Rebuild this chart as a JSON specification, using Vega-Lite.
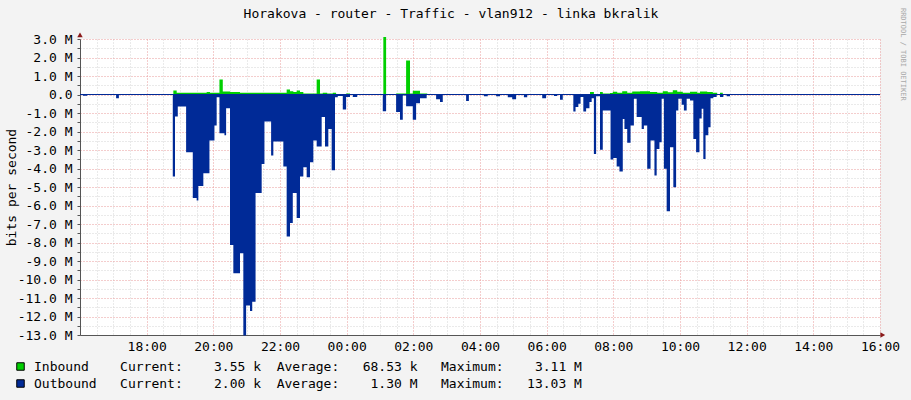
{
"$schema":"https://vega.github.io/schema/vega-lite/v6.json",
"width":800,"height":296,
"autosize":{"type":"none"},
"padding":{"left":80,"top":39,"right":31,"bottom":65},
"background":"#f3f3f3",
"title":{"text":"Horakova - router - Traffic - vlan912 - linka bkralik","font":"DejaVu Sans Mono","fontSize":13,"fontWeight":"normal","color":"#000000","offset":-13,"dx":-29},
"config":{"view":{"stroke":null,"fill":"#ffffff"},
"axis":{"labelFont":"DejaVu Sans Mono","labelFontSize":13,"labelColor":"#000000","titleFont":"DejaVu Sans Mono","titleFontSize":13,"titleFontWeight":"normal","titleColor":"#000000"}},
"data":{"values":[
{"t":"2024-01-01T16:00:00Z","s":"Outbound","v":0},
{"t":"2024-01-01T16:05:00Z","s":"Outbound","v":-0.07},
{"t":"2024-01-01T16:13:00Z","s":"Outbound","v":0},
{"t":"2024-01-01T17:05:00Z","s":"Outbound","v":-0.2},
{"t":"2024-01-01T17:10:00Z","s":"Outbound","v":0},
{"t":"2024-01-01T18:47:00Z","s":"Outbound","v":-4.43},
{"t":"2024-01-01T18:51:00Z","s":"Outbound","v":-1.19},
{"t":"2024-01-01T18:56:00Z","s":"Outbound","v":-0.65},
{"t":"2024-01-01T19:11:00Z","s":"Outbound","v":-3.12},
{"t":"2024-01-01T19:23:00Z","s":"Outbound","v":-5.59},
{"t":"2024-01-01T19:30:00Z","s":"Outbound","v":-5.73},
{"t":"2024-01-01T19:33:00Z","s":"Outbound","v":-4.95},
{"t":"2024-01-01T19:42:00Z","s":"Outbound","v":-4.25},
{"t":"2024-01-01T19:53:00Z","s":"Outbound","v":-2.49},
{"t":"2024-01-01T20:02:00Z","s":"Outbound","v":-1.68},
{"t":"2024-01-01T20:06:00Z","s":"Outbound","v":-0.15},
{"t":"2024-01-01T20:11:00Z","s":"Outbound","v":-2.09},
{"t":"2024-01-01T20:20:00Z","s":"Outbound","v":-2.2},
{"t":"2024-01-01T20:23:00Z","s":"Outbound","v":-0.74},
{"t":"2024-01-01T20:30:00Z","s":"Outbound","v":-8.13},
{"t":"2024-01-01T20:36:00Z","s":"Outbound","v":-9.66},
{"t":"2024-01-01T20:48:00Z","s":"Outbound","v":-8.58},
{"t":"2024-01-01T20:54:00Z","s":"Outbound","v":-13.03},
{"t":"2024-01-01T20:59:00Z","s":"Outbound","v":-11.4},
{"t":"2024-01-01T21:06:00Z","s":"Outbound","v":-11.7},
{"t":"2024-01-01T21:10:00Z","s":"Outbound","v":-11.2},
{"t":"2024-01-01T21:16:00Z","s":"Outbound","v":-5.33},
{"t":"2024-01-01T21:27:00Z","s":"Outbound","v":-3.75},
{"t":"2024-01-01T21:32:00Z","s":"Outbound","v":-1.46},
{"t":"2024-01-01T21:44:00Z","s":"Outbound","v":-3.3},
{"t":"2024-01-01T21:48:00Z","s":"Outbound","v":-2.54},
{"t":"2024-01-01T22:06:00Z","s":"Outbound","v":-3.89},
{"t":"2024-01-01T22:12:00Z","s":"Outbound","v":-7.68},
{"t":"2024-01-01T22:18:00Z","s":"Outbound","v":-6.95},
{"t":"2024-01-01T22:23:00Z","s":"Outbound","v":-5.33},
{"t":"2024-01-01T22:30:00Z","s":"Outbound","v":-6.67},
{"t":"2024-01-01T22:36:00Z","s":"Outbound","v":-4.43},
{"t":"2024-01-01T22:42:00Z","s":"Outbound","v":-3.93},
{"t":"2024-01-01T22:48:00Z","s":"Outbound","v":-4.47},
{"t":"2024-01-01T22:54:00Z","s":"Outbound","v":-3.66},
{"t":"2024-01-01T23:00:00Z","s":"Outbound","v":-2.49},
{"t":"2024-01-01T23:06:00Z","s":"Outbound","v":-2.81},
{"t":"2024-01-01T23:15:00Z","s":"Outbound","v":-1.22},
{"t":"2024-01-01T23:21:00Z","s":"Outbound","v":-2.81},
{"t":"2024-01-01T23:27:00Z","s":"Outbound","v":-1.86},
{"t":"2024-01-01T23:33:00Z","s":"Outbound","v":-4.1},
{"t":"2024-01-01T23:39:00Z","s":"Outbound","v":-0.15},
{"t":"2024-01-01T23:44:00Z","s":"Outbound","v":-0.08},
{"t":"2024-01-01T23:53:00Z","s":"Outbound","v":-0.81},
{"t":"2024-01-01T23:59:00Z","s":"Outbound","v":-0.14},
{"t":"2024-01-02T00:06:00Z","s":"Outbound","v":-0.02},
{"t":"2024-01-02T00:11:00Z","s":"Outbound","v":-0.14},
{"t":"2024-01-02T00:19:00Z","s":"Outbound","v":0},
{"t":"2024-01-02T01:05:00Z","s":"Outbound","v":-0.9},
{"t":"2024-01-02T01:11:00Z","s":"Outbound","v":0},
{"t":"2024-01-02T01:29:00Z","s":"Outbound","v":-0.95},
{"t":"2024-01-02T01:36:00Z","s":"Outbound","v":-1.37},
{"t":"2024-01-02T01:41:00Z","s":"Outbound","v":-0.05},
{"t":"2024-01-02T01:47:00Z","s":"Outbound","v":-0.63},
{"t":"2024-01-02T01:59:00Z","s":"Outbound","v":-1.37},
{"t":"2024-01-02T02:05:00Z","s":"Outbound","v":-0.47},
{"t":"2024-01-02T02:12:00Z","s":"Outbound","v":-0.2},
{"t":"2024-01-02T02:24:00Z","s":"Outbound","v":0},
{"t":"2024-01-02T02:41:00Z","s":"Outbound","v":-0.25},
{"t":"2024-01-02T02:48:00Z","s":"Outbound","v":-0.4},
{"t":"2024-01-02T02:53:00Z","s":"Outbound","v":0},
{"t":"2024-01-02T03:35:00Z","s":"Outbound","v":-0.35},
{"t":"2024-01-02T03:40:00Z","s":"Outbound","v":0},
{"t":"2024-01-02T04:07:00Z","s":"Outbound","v":-0.1},
{"t":"2024-01-02T04:14:00Z","s":"Outbound","v":0},
{"t":"2024-01-02T04:29:00Z","s":"Outbound","v":-0.1},
{"t":"2024-01-02T04:36:00Z","s":"Outbound","v":0},
{"t":"2024-01-02T04:50:00Z","s":"Outbound","v":-0.15},
{"t":"2024-01-02T04:58:00Z","s":"Outbound","v":-0.25},
{"t":"2024-01-02T05:05:00Z","s":"Outbound","v":0},
{"t":"2024-01-02T05:19:00Z","s":"Outbound","v":-0.15},
{"t":"2024-01-02T05:25:00Z","s":"Outbound","v":0},
{"t":"2024-01-02T05:52:00Z","s":"Outbound","v":-0.2},
{"t":"2024-01-02T05:59:00Z","s":"Outbound","v":0},
{"t":"2024-01-02T06:13:00Z","s":"Outbound","v":-0.08},
{"t":"2024-01-02T06:19:00Z","s":"Outbound","v":0},
{"t":"2024-01-02T06:24:00Z","s":"Outbound","v":-0.29},
{"t":"2024-01-02T06:29:00Z","s":"Outbound","v":0},
{"t":"2024-01-02T06:48:00Z","s":"Outbound","v":-0.92},
{"t":"2024-01-02T06:52:00Z","s":"Outbound","v":-0.68},
{"t":"2024-01-02T06:57:00Z","s":"Outbound","v":-0.5},
{"t":"2024-01-02T07:01:00Z","s":"Outbound","v":-0.14},
{"t":"2024-01-02T07:06:00Z","s":"Outbound","v":-0.92},
{"t":"2024-01-02T07:11:00Z","s":"Outbound","v":-0.74},
{"t":"2024-01-02T07:17:00Z","s":"Outbound","v":-0.41},
{"t":"2024-01-02T07:21:00Z","s":"Outbound","v":-0.2},
{"t":"2024-01-02T07:25:00Z","s":"Outbound","v":-3.21},
{"t":"2024-01-02T07:29:00Z","s":"Outbound","v":-0.1},
{"t":"2024-01-02T07:36:00Z","s":"Outbound","v":-2.99},
{"t":"2024-01-02T07:41:00Z","s":"Outbound","v":-0.86},
{"t":"2024-01-02T07:55:00Z","s":"Outbound","v":-3.51},
{"t":"2024-01-02T08:00:00Z","s":"Outbound","v":-3.43},
{"t":"2024-01-02T08:06:00Z","s":"Outbound","v":-3.89},
{"t":"2024-01-02T08:11:00Z","s":"Outbound","v":-4.16},
{"t":"2024-01-02T08:17:00Z","s":"Outbound","v":-1.32},
{"t":"2024-01-02T08:20:00Z","s":"Outbound","v":-1.86},
{"t":"2024-01-02T08:25:00Z","s":"Outbound","v":-2.61},
{"t":"2024-01-02T08:31:00Z","s":"Outbound","v":-1.68},
{"t":"2024-01-02T08:37:00Z","s":"Outbound","v":-0.23},
{"t":"2024-01-02T08:42:00Z","s":"Outbound","v":-1.22},
{"t":"2024-01-02T08:51:00Z","s":"Outbound","v":-1.86},
{"t":"2024-01-02T08:55:00Z","s":"Outbound","v":-1.68},
{"t":"2024-01-02T09:01:00Z","s":"Outbound","v":-4.02},
{"t":"2024-01-02T09:07:00Z","s":"Outbound","v":-2.49},
{"t":"2024-01-02T09:14:00Z","s":"Outbound","v":-4.38},
{"t":"2024-01-02T09:18:00Z","s":"Outbound","v":-2.94},
{"t":"2024-01-02T09:23:00Z","s":"Outbound","v":-2.58},
{"t":"2024-01-02T09:27:00Z","s":"Outbound","v":-0.23},
{"t":"2024-01-02T09:31:00Z","s":"Outbound","v":-4.02},
{"t":"2024-01-02T09:36:00Z","s":"Outbound","v":-6.31},
{"t":"2024-01-02T09:42:00Z","s":"Outbound","v":-2.85},
{"t":"2024-01-02T09:48:00Z","s":"Outbound","v":-5.01},
{"t":"2024-01-02T09:53:00Z","s":"Outbound","v":-0.86},
{"t":"2024-01-02T09:57:00Z","s":"Outbound","v":-0.23},
{"t":"2024-01-02T10:03:00Z","s":"Outbound","v":-0.56},
{"t":"2024-01-02T10:07:00Z","s":"Outbound","v":-0.86},
{"t":"2024-01-02T10:12:00Z","s":"Outbound","v":-0.23},
{"t":"2024-01-02T10:18:00Z","s":"Outbound","v":-0.32},
{"t":"2024-01-02T10:24:00Z","s":"Outbound","v":-2.4},
{"t":"2024-01-02T10:29:00Z","s":"Outbound","v":-3.12},
{"t":"2024-01-02T10:35:00Z","s":"Outbound","v":-1.3},
{"t":"2024-01-02T10:39:00Z","s":"Outbound","v":-0.77},
{"t":"2024-01-02T10:42:00Z","s":"Outbound","v":-3.48},
{"t":"2024-01-02T10:46:00Z","s":"Outbound","v":-2.2},
{"t":"2024-01-02T10:51:00Z","s":"Outbound","v":-1.77},
{"t":"2024-01-02T10:55:00Z","s":"Outbound","v":-0.2},
{"t":"2024-01-02T11:00:00Z","s":"Outbound","v":-0.14},
{"t":"2024-01-02T11:06:00Z","s":"Outbound","v":0},
{"t":"2024-01-02T11:12:00Z","s":"Outbound","v":-0.14},
{"t":"2024-01-02T11:18:00Z","s":"Outbound","v":0},
{"t":"2024-01-02T11:24:00Z","s":"Outbound","v":-0.1},
{"t":"2024-01-02T11:30:00Z","s":"Outbound","v":0},
{"t":"2024-01-02T16:00:00Z","s":"Outbound","v":0},
{"t":"2024-01-01T16:00:00Z","s":"Inbound","v":0},
{"t":"2024-01-01T18:48:00Z","s":"Inbound","v":0.22},
{"t":"2024-01-01T18:54:00Z","s":"Inbound","v":0.09},
{"t":"2024-01-01T19:48:00Z","s":"Inbound","v":0.13},
{"t":"2024-01-01T19:54:00Z","s":"Inbound","v":0.09},
{"t":"2024-01-01T20:11:00Z","s":"Inbound","v":0.81},
{"t":"2024-01-01T20:17:00Z","s":"Inbound","v":0.16},
{"t":"2024-01-01T20:30:00Z","s":"Inbound","v":0.13},
{"t":"2024-01-01T20:48:00Z","s":"Inbound","v":0.09},
{"t":"2024-01-01T22:12:00Z","s":"Inbound","v":0.27},
{"t":"2024-01-01T22:18:00Z","s":"Inbound","v":0.18},
{"t":"2024-01-01T22:24:00Z","s":"Inbound","v":0.13},
{"t":"2024-01-01T22:30:00Z","s":"Inbound","v":0.22},
{"t":"2024-01-01T22:36:00Z","s":"Inbound","v":0.13},
{"t":"2024-01-01T22:42:00Z","s":"Inbound","v":0.05},
{"t":"2024-01-01T23:06:00Z","s":"Inbound","v":0.81},
{"t":"2024-01-01T23:12:00Z","s":"Inbound","v":0.05},
{"t":"2024-01-01T23:17:00Z","s":"Inbound","v":0.1},
{"t":"2024-01-01T23:25:00Z","s":"Inbound","v":0.05},
{"t":"2024-01-01T23:35:00Z","s":"Inbound","v":0.09},
{"t":"2024-01-01T23:41:00Z","s":"Inbound","v":0.03},
{"t":"2024-01-01T23:59:00Z","s":"Inbound","v":0.06},
{"t":"2024-01-02T00:06:00Z","s":"Inbound","v":0.01},
{"t":"2024-01-02T00:19:00Z","s":"Inbound","v":0},
{"t":"2024-01-02T01:00:00Z","s":"Inbound","v":0.02},
{"t":"2024-01-02T01:06:00Z","s":"Inbound","v":3.11},
{"t":"2024-01-02T01:11:00Z","s":"Inbound","v":0.02},
{"t":"2024-01-02T01:29:00Z","s":"Inbound","v":0.05},
{"t":"2024-01-02T01:47:00Z","s":"Inbound","v":1.84},
{"t":"2024-01-02T01:54:00Z","s":"Inbound","v":0.05},
{"t":"2024-01-02T01:59:00Z","s":"Inbound","v":0.2},
{"t":"2024-01-02T02:12:00Z","s":"Inbound","v":0.05},
{"t":"2024-01-02T02:25:00Z","s":"Inbound","v":0},
{"t":"2024-01-02T07:18:00Z","s":"Inbound","v":0.13},
{"t":"2024-01-02T07:25:00Z","s":"Inbound","v":0.03},
{"t":"2024-01-02T07:36:00Z","s":"Inbound","v":0.14},
{"t":"2024-01-02T07:41:00Z","s":"Inbound","v":0.06},
{"t":"2024-01-02T07:54:00Z","s":"Inbound","v":0.08},
{"t":"2024-01-02T07:59:00Z","s":"Inbound","v":0.15},
{"t":"2024-01-02T08:07:00Z","s":"Inbound","v":0.1},
{"t":"2024-01-02T08:16:00Z","s":"Inbound","v":0.18},
{"t":"2024-01-02T08:25:00Z","s":"Inbound","v":0.1},
{"t":"2024-01-02T08:34:00Z","s":"Inbound","v":0.16},
{"t":"2024-01-02T08:48:00Z","s":"Inbound","v":0.18},
{"t":"2024-01-02T09:06:00Z","s":"Inbound","v":0.14},
{"t":"2024-01-02T09:19:00Z","s":"Inbound","v":0.1},
{"t":"2024-01-02T09:29:00Z","s":"Inbound","v":0.17},
{"t":"2024-01-02T09:38:00Z","s":"Inbound","v":0.12},
{"t":"2024-01-02T09:47:00Z","s":"Inbound","v":0.23},
{"t":"2024-01-02T09:55:00Z","s":"Inbound","v":0.15},
{"t":"2024-01-02T10:05:00Z","s":"Inbound","v":0.1},
{"t":"2024-01-02T10:18:00Z","s":"Inbound","v":0.15},
{"t":"2024-01-02T10:31:00Z","s":"Inbound","v":0.1},
{"t":"2024-01-02T10:36:00Z","s":"Inbound","v":0.16},
{"t":"2024-01-02T10:49:00Z","s":"Inbound","v":0.13},
{"t":"2024-01-02T10:59:00Z","s":"Inbound","v":0.1},
{"t":"2024-01-02T11:07:00Z","s":"Inbound","v":0.02},
{"t":"2024-01-02T11:12:00Z","s":"Inbound","v":0.1},
{"t":"2024-01-02T11:17:00Z","s":"Inbound","v":0.01},
{"t":"2024-01-02T16:00:00Z","s":"Inbound","v":0.01}
]},
"layer":[
{"mark":{"type":"area","interpolate":"step-after","opacity":1},
"encoding":{
"x":{"field":"t","type":"temporal","scale":{"type":"utc","nice":false,"domain":[1704124800000,1704211200000]},
"axis":{"orient":"bottom","format":"%H:%M","tickCount":100,"values":[1704126600000,1704128400000,1704130200000,1704132000000,1704133800000,1704135600000,1704137400000,1704139200000,1704141000000,1704142800000,1704144600000,1704146400000,1704148200000,1704150000000,1704151800000,1704153600000,1704155400000,1704157200000,1704159000000,1704160800000,1704162600000,1704164400000,1704166200000,1704168000000,1704169800000,1704171600000,1704173400000,1704175200000,1704177000000,1704178800000,1704180600000,1704182400000,1704184200000,1704186000000,1704187800000,1704189600000,1704191400000,1704193200000,1704195000000,1704196800000,1704198600000,1704200400000,1704202200000,1704204000000,1704205800000,1704207600000,1704209400000,1704211200000],
"labelExpr":"(datum.value - 1704124800000) % 7200000 == 0 ? datum.label : ''",
"grid":true,"gridColor":{"condition":{"test":"(datum.value - 1704124800000) % 7200000 == 0","value":"#e89a9a"},"value":"#d4d4d4"},"gridDash":[1,2],"gridOpacity":1,"ticks":false,"labelPadding":5,"labelFontSize":13,"labelFont":"DejaVu Sans Mono","domainColor":"#555555","title":null,"labelFlush":false,"labelOverlap":false}},
"y":{"field":"v","type":"quantitative","stack":null,"scale":{"domain":[-13,3],"nice":false,"zero":false},
"axis":{"orient":"left","tickCount":100,"values":[-13,-12.5,-12,-11.5,-11,-10.5,-10,-9.5,-9,-8.5,-8,-7.5,-7,-6.5,-6,-5.5,-5,-4.5,-4,-3.5,-3,-2.5,-2,-1.5,-1,-0.5,0,0.5,1,1.5,2,2.5,3],"labelExpr":"datum.value % 1 != 0 ? '' : (datum.value == 0 ? '0.0\u00a0\u00a0' : (datum.value < 0 ? '-' : '') + format(abs(datum.value), '.1f') + '\u00a0M')","grid":true,"gridColor":{"condition":{"test":"datum.value % 1 == 0","value":"#e89a9a"},"value":"#d4d4d4"},"gridDash":[1,2],"gridOpacity":1,"domainColor":"#555555","tickColor":"#555555","tickSize":3,"labelPadding":5,"labelFontSize":13,"labelFont":"DejaVu Sans Mono","labelOverlap":false,"labelFlush":false,"title":"bits per second","titlePadding":-1}},
"color":{"field":"s","type":"nominal","scale":{"domain":["Inbound","Outbound"],"range":["#00CF00","#002A97"]},
"legend":{"orient":"none","legendX":-66,"legendY":321,"direction":"vertical","title":null,"symbolType":"square","symbolSize":56,"symbolStrokeColor":"#000000","symbolStrokeWidth":1,"labelFont":"DejaVu Sans Mono","labelFontSize":13,"labelColor":"#000000","labelLimit":700,"labelOffset":7,"rowPadding":3,
"labelExpr":"datum.label == 'Inbound' ? 'Inbound\u00a0\u00a0\u00a0\u00a0Current:\u00a0\u00a0\u00a0\u00a03.55\u00a0k\u00a0\u00a0Average:\u00a0\u00a0\u00a068.53\u00a0k\u00a0\u00a0\u00a0Maximum:\u00a0\u00a0\u00a0\u00a03.11\u00a0M' : 'Outbound\u00a0\u00a0\u00a0Current:\u00a0\u00a0\u00a0\u00a02.00\u00a0k\u00a0\u00a0Average:\u00a0\u00a0\u00a0\u00a01.30\u00a0M\u00a0\u00a0\u00a0Maximum:\u00a0\u00a0\u00a013.03\u00a0M'"}}
}},
{"data":{"values":[{}]},
"mark":{"type":"rule","color":"#002A97","strokeWidth":1},
"encoding":{"y":{"datum":0}}},
{"data":{"values":[{}]},
"mark":{"type":"point","shape":"triangle-up","filled":true,"size":30,"color":"#8b1a1a","opacity":1},
"encoding":{"x":{"datum":1704124800000,"type":"temporal"},"y":{"datum":3.22}}},
{"data":{"values":[{}]},
"mark":{"type":"point","shape":"triangle-right","filled":true,"size":30,"color":"#8b1a1a","opacity":1},
"encoding":{"x":{"datum":1704211500000,"type":"temporal"},"y":{"datum":-13}}},
{"data":{"values":[{}]},
"mark":{"type":"text","text":"RRDTOOL / TOBI OETIKER","angle":90,"align":"left","baseline":"middle","font":"DejaVu Sans Mono","fontSize":7,"color":"#a8a8a8"},
"encoding":{"x":{"datum":1704213684000,"type":"temporal"},"y":{"datum":4.68}}}
]
}
